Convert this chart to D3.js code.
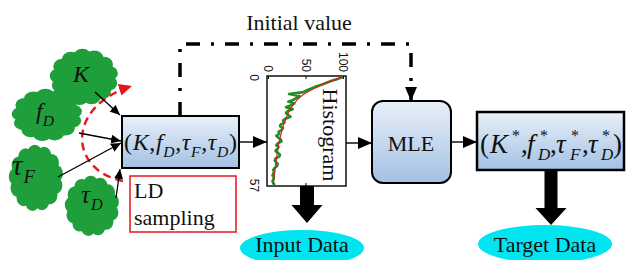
<!DOCTYPE html>
<html lang="en">
<head>
<meta charset="UTF-8">
<title>LD sampling - histogram - MLE</title>
<script src="https://cdn.jsdelivr.net/npm/d3@7"></script>
<style>
body{margin:0;background:#fff}
svg{display:block}
text{font-family:"Liberation Serif","Times New Roman",serif;fill:#111}
.tick text{font-family:"Liberation Sans",Arial,sans-serif}
</style>
</head>
<body>
<svg width="626" height="260"></svg>
<script>
// histogram counts per bin (bins 0..57)
var histCounts = [100,93,85,78,72,64,58,52,47,28,42,38,34,27,35,30,24,33,26,24,
                  27,30,23,20,22,17,16,20,18,14,15,11,14,17,18,13,11,14,12,10,
                  13,16,15,10,9,11,13,12,9,7,8,7,6,8,7,6,7,9];
// fitted curve (red) at the same bins
var fitCounts = [100,92,85,78,72,67,62,57,52,48,45,42,39,37,35,33,31,29.5,28,27,
                 26,25,24,23,22,21,20,19.3,18.6,18,17.4,16.8,16.2,15.6,15,14.5,14,13.6,13.2,12.8,
                 12.4,12,11.6,11.2,10.9,10.6,10.3,10,9.7,9.4,9.1,8.8,8.5,8.2,7.9,7.6,7.3,7];
var valueTicks = [0, 50, 100];
var binTicks = [0, 57];
var binMax = 57, valueMax = 100;

var svg = d3.select("svg");
var defs = svg.append("defs");

// gradient for the blue boxes
var grad = defs.append("linearGradient").attr("id", "blue").attr("x1", 0).attr("y1", 0).attr("x2", 0).attr("y2", 1);
grad.append("stop").attr("offset", "0%").attr("stop-color", "#e9f0f9");
grad.append("stop").attr("offset", "100%").attr("stop-color", "#a3c1e3");

function marker(id, w, h, color) {
  defs.append("marker").attr("id", id)
    .attr("markerUnits", "userSpaceOnUse")
    .attr("markerWidth", w).attr("markerHeight", h)
    .attr("refX", w).attr("refY", h / 2)
    .attr("orient", "auto")
    .append("path").attr("d", "M0,0L" + w + "," + (h / 2) + "L0," + h + "Z").attr("fill", color);
}
marker("ah", 10, 9, "#000");
marker("ahBig", 14, 12, "#000");
marker("ahRed", 13, 12, "#e8141b");

// text with sub/superscripts
function rich(g, x, y, size, parts) {
  var t = g.append("text").attr("x", x).attr("y", y).attr("font-size", size);
  var cur = 0;
  parts.forEach(function (p) {
    var sm = p.sub || p.sup;
    var off = p.sub ? size * 0.28 : p.sup ? -size * 0.45 : 0;
    var s = t.append("tspan").text(p.t)
      .attr("dy", off - cur)
      .attr("font-size", sm ? size * (p.sup ? 0.55 : 0.65) : size)
      .attr("font-style", p.it ? "italic" : "normal");
    if (p.dx) s.attr("dx", p.dx);
    cur = off;
  });
  return t;
}

// green clouds
function cloud(cx, cy, rx, ry) {
  var g = svg.append("g").attr("fill", "#1f9f3c");
  g.append("ellipse").attr("cx", cx).attr("cy", cy).attr("rx", rx * 0.8).attr("ry", ry * 0.8);
  for (var k = 0; k < 13; k++) {
    var a = k / 13 * Math.PI * 2 + 0.3;
    g.append("ellipse")
      .attr("cx", cx + rx * 0.74 * Math.cos(a)).attr("cy", cy + ry * 0.74 * Math.sin(a))
      .attr("rx", rx * 0.27).attr("ry", ry * 0.27);
  }
}
cloud(84, 77, 34, 28);
cloud(47, 115, 35, 26);
cloud(36, 178, 27, 33);
cloud(92, 206, 27, 30);

rich(svg, 73, 82, 24, [{t: "K", it: 1}]);
rich(svg, 36, 119, 24, [{t: "f", it: 1}, {t: "D", it: 1, sub: 1}]);
rich(svg, 12, 175, 29, [{t: "τ", it: 1}, {t: "F", it: 1, sub: 1, dx: 1}]);
rich(svg, 81, 203, 25, [{t: "τ", it: 1}, {t: "D", it: 1, sub: 1, dx: 1}]);

// red dashed sampling arc
svg.append("path").attr("d", "M123,181C68,170 66,106 132,86")
  .attr("fill", "none").attr("stroke", "#e8141b").attr("stroke-width", 2.4)
  .attr("stroke-dasharray", "8,5").attr("marker-end", "url(#ahRed)");

// thin arrows from the clouds
var thin = [[95, 92, 120, 115], [79, 133, 121, 141], [58, 177, 121, 143], [116, 198, 120, 169]];
svg.selectAll("line.thin").data(thin).enter().append("line").attr("class", "thin")
  .attr("x1", function (d) { return d[0]; }).attr("y1", function (d) { return d[1]; })
  .attr("x2", function (d) { return d[2]; }).attr("y2", function (d) { return d[3]; })
  .attr("stroke", "#000").attr("stroke-width", 1.3).attr("marker-end", "url(#ah)");

// dash-dot "initial value" loop
svg.append("path").attr("d", "M180,116V44H411V101")
  .attr("fill", "none").attr("stroke", "#000").attr("stroke-width", 3.5)
  .attr("stroke-dasharray", "14,11,3,11")
  .attr("marker-end", "url(#ahBig)");
svg.append("text").attr("x", 299).attr("y", 30).attr("font-size", 22)
  .attr("text-anchor", "middle").text("Initial value");

// parameter box
svg.append("rect").attr("x", 122).attr("y", 116).attr("width", 117).attr("height", 52)
  .attr("fill", "url(#blue)").attr("stroke", "#000").attr("stroke-width", 2);
rich(svg, 124, 150, 24, [{t: "("}, {t: "K", it: 1}, {t: ","}, {t: "f", it: 1}, {t: "D", it: 1, sub: 1},
  {t: ","}, {t: "τ", it: 1}, {t: "F", it: 1, sub: 1}, {t: ","}, {t: "τ", it: 1}, {t: "D", it: 1, sub: 1}, {t: ")"}])
  .attr("textLength", 113).attr("lengthAdjust", "spacing");

// LD sampling box
svg.append("rect").attr("x", 130).attr("y", 176).attr("width", 106).attr("height", 56)
  .attr("fill", "#fff").attr("stroke", "#e8141b").attr("stroke-width", 1.5);
svg.append("text").attr("x", 134).attr("y", 198).attr("font-size", 22).text("LD");
svg.append("text").attr("x", 134).attr("y", 225).attr("font-size", 22).text("sampling");

// horizontal connecting arrows
var links = [[239, 142, 267, 142], [346, 143, 372, 143], [451, 142, 477, 142]];
svg.selectAll("line.link").data(links).enter().append("line").attr("class", "link")
  .attr("x1", function (d) { return d[0]; }).attr("y1", function (d) { return d[1]; })
  .attr("x2", function (d) { return d[2]; }).attr("y2", function (d) { return d[3]; })
  .attr("stroke", "#000").attr("stroke-width", 1.4).attr("marker-end", "url(#ahBig)");

// histogram (rotated plot: bins run down, counts run right)
var hx0 = 267, hx1 = 346, hy0 = 76, hy1 = 186;
var vx = d3.scaleLinear().domain([0, valueMax]).range([hx0 + 1, hx1 - 3]);
var by = d3.scaleLinear().domain([0, binMax]).range([hy0 + 1, hy1 - 1]);
svg.append("rect").attr("x", hx0).attr("y", hy0).attr("width", hx1 - hx0).attr("height", hy1 - hy0)
  .attr("fill", "#fff").attr("stroke", "#000").attr("stroke-width", 1.4);

var topAx = svg.append("g").attr("transform", "translate(0," + hy0 + ")")
  .call(d3.axisTop(vx).tickValues(valueTicks).tickSizeInner(-3).tickSizeOuter(0));
topAx.select(".domain").remove();
topAx.selectAll("text").attr("font-size", 12).attr("transform", "rotate(90)")
  .attr("text-anchor", "end").attr("x", -4).attr("y", 0).attr("dy", "0.35em");
var botAx = svg.append("g").attr("transform", "translate(0," + hy1 + ")")
  .call(d3.axisBottom(vx).tickValues([50]).tickSizeInner(-3).tickSizeOuter(0).tickFormat(""));
botAx.select(".domain").remove();
var leftAx = svg.append("g").attr("transform", "translate(" + hx0 + ",0)")
  .call(d3.axisLeft(by).tickValues(binTicks).tickSize(0));
leftAx.select(".domain").remove();
leftAx.selectAll("text").attr("font-size", 12).attr("transform", "rotate(90)")
  .attr("text-anchor", "middle").attr("x", 0).attr("y", 17).attr("dy", 0);

var histLine = d3.line().x(function (d) { return vx(d); }).y(function (d, i) { return by(i); });
svg.append("path").datum(histCounts).attr("d", histLine)
  .attr("fill", "none").attr("stroke", "#1e8f24").attr("stroke-width", 2.6).attr("stroke-linejoin", "round");
svg.append("path").datum(fitCounts).attr("d", histLine.curve(d3.curveMonotoneY))
  .attr("fill", "none").attr("stroke", "#e8141b").attr("stroke-width", 1.1);

svg.append("text").attr("font-size", 22).attr("text-anchor", "middle")
  .attr("transform", "translate(323,135) rotate(90)").text("Histogram");

// MLE box
svg.append("rect").attr("x", 372).attr("y", 101).attr("width", 79).attr("height", 82).attr("rx", 11)
  .attr("fill", "url(#blue)").attr("stroke", "#000").attr("stroke-width", 2);
svg.append("text").attr("x", 411).attr("y", 151).attr("font-size", 22).attr("text-anchor", "middle").text("MLE");

// estimate box, glyph pieces placed one by one (asterisks sit above the subscripts)
svg.append("rect").attr("x", 477).attr("y", 112).attr("width", 147).attr("height", 58)
  .attr("fill", "url(#blue)").attr("stroke", "#000").attr("stroke-width", 2.5);
var estPieces = [["(", 480, "n"], ["K", 490, "i"], ["*", 512, "s"], [",", 521, "n"],
                 ["f", 527, "i"], ["D", 538, "b"], ["*", 540, "s"], [",", 550, "n"],
                 ["τ", 556, "i"], ["F", 570, "b"], ["*", 571, "s"], [",", 582, "n"],
                 ["τ", 588, "i"], ["D", 601, "b"], ["*", 602, "s"], [")", 613, "n"]];
var est = svg.append("g");
estPieces.forEach(function (p) {
  var k = p[2];
  est.append("text").attr("x", p[1])
    .attr("y", k === "s" ? 141 : k === "b" ? 160 : 153)
    .attr("font-size", k === "s" ? 16 : k === "b" ? 17 : 27)
    .attr("font-style", (k === "i" || k === "b") ? "italic" : "normal")
    .text(p[0]);
});

// thick down arrows and output ellipses
function bigArrow(cx, y0, y1, sw, hw, hh) {
  var pts = [[cx - sw / 2, y0], [cx + sw / 2, y0], [cx + sw / 2, y1 - hh], [cx + hw / 2, y1 - hh],
             [cx, y1], [cx - hw / 2, y1 - hh], [cx - sw / 2, y1 - hh]];
  svg.append("polygon").attr("points", pts.join(" ")).attr("fill", "#000");
}
bigArrow(307, 186, 223, 14, 31, 18);
bigArrow(551, 170, 225, 13, 31, 17);

var outputs = [{cx: 302, cy: 248, rx: 62, ry: 18, label: "Input Data"},
               {cx: 545, cy: 244, rx: 67, ry: 19, label: "Target Data"}];
outputs.forEach(function (o) {
  svg.append("ellipse").attr("cx", o.cx).attr("cy", o.cy).attr("rx", o.rx).attr("ry", o.ry).attr("fill", "#00e5f0");
  svg.append("text").attr("x", o.cx).attr("y", 252).attr("font-size", 22).attr("text-anchor", "middle").text(o.label);
});
</script>
</body>
</html>
